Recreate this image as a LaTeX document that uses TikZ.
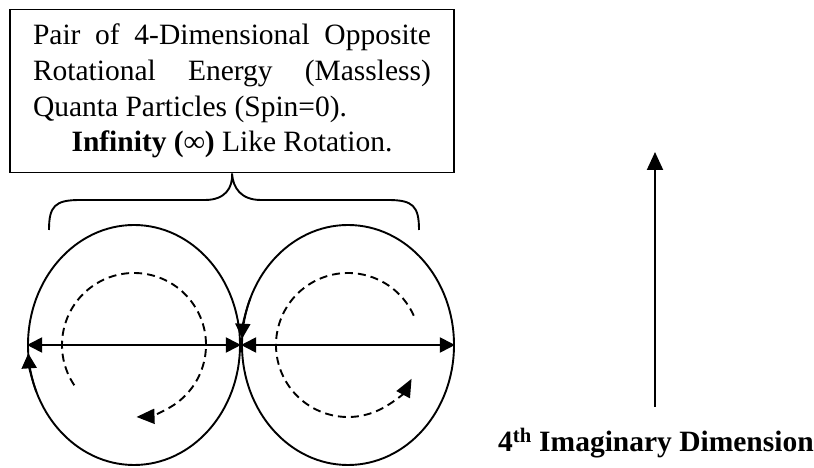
\documentclass[tikz,border=0pt]{standalone}
\usepackage{fontspec}
\setmainfont{Liberation Serif}
\usetikzlibrary{shapes.geometric,arrows.meta,positioning,calc}

\begin{document}
\begin{tikzpicture}[x=1pt,y=1pt,line width=1.9pt,
  >={Triangle[length=15pt,width=15pt]},
  ring/.style={draw,ellipse,minimum width=212pt,minimum height=240pt,inner sep=0pt},
  spin/.style={dash pattern=on 8pt off 5pt,-{Triangle[length=18pt,width=15pt]}}]
\useasboundingbox (0,0) rectangle (814,468);
\node[draw,minimum width=444pt,minimum height=163pt,align=center,font=\fontsize{29.5}{35.7}\selectfont] (quanta) at (232,377)
  {\makebox[398pt][s]{Pair of 4-Dimensional Opposite}\\
   \makebox[398pt][s]{Rotational Energy (Massless)}\\
   \makebox[398pt][l]{Quanta Particles (Spin=0).}\\
   \textbf{Infinity (∞)} Like Rotation.};
\node[ring] (lring) at (134,123) {};
\node[ring] (rring) at (348,123) {};
% brace under the box
\draw (49,238) .. controls (49,262) and (55,268) .. (80,268) -- (205,268)
  .. controls (225,268) and (233,280) .. (quanta.south)
  .. controls (233,280) and (241,268) .. (261,268) -- (388,268)
  .. controls (413,268) and (419,262) .. (419,238);
% axes through the rings
\draw[<->] (lring.west) -- (lring.east);
\draw[<->] (rring.west) -- (rring.east);
\draw[->] (lring.center) ++(203:106 and 120) arc[start angle=203,end angle=184,x radius=106,y radius=120];
\draw[->] (rring.center) ++(157:106 and 120) arc[start angle=157,end angle=177,x radius=106,y radius=120];
% rotation inside
\draw[spin] (lring.center) ++(214:72) arc[start angle=214,end angle=-88,radius=72];
\draw[spin] (rring.center) ++(24:72) arc[start angle=24,end angle=332,radius=72];
% dimension axis
\node[font=\bfseries\fontsize{29.5}{35}\selectfont,anchor=base] (dimlabel) at (656,16) {4\textsuperscript{th} Imaginary Dimension};
\coordinate (dimbot) at (655,61);
\coordinate (dimtop) at (655,316);
\draw[-{Triangle[length=18pt,width=16pt]}] (dimbot) -- (dimtop);
\end{tikzpicture}
\end{document}
